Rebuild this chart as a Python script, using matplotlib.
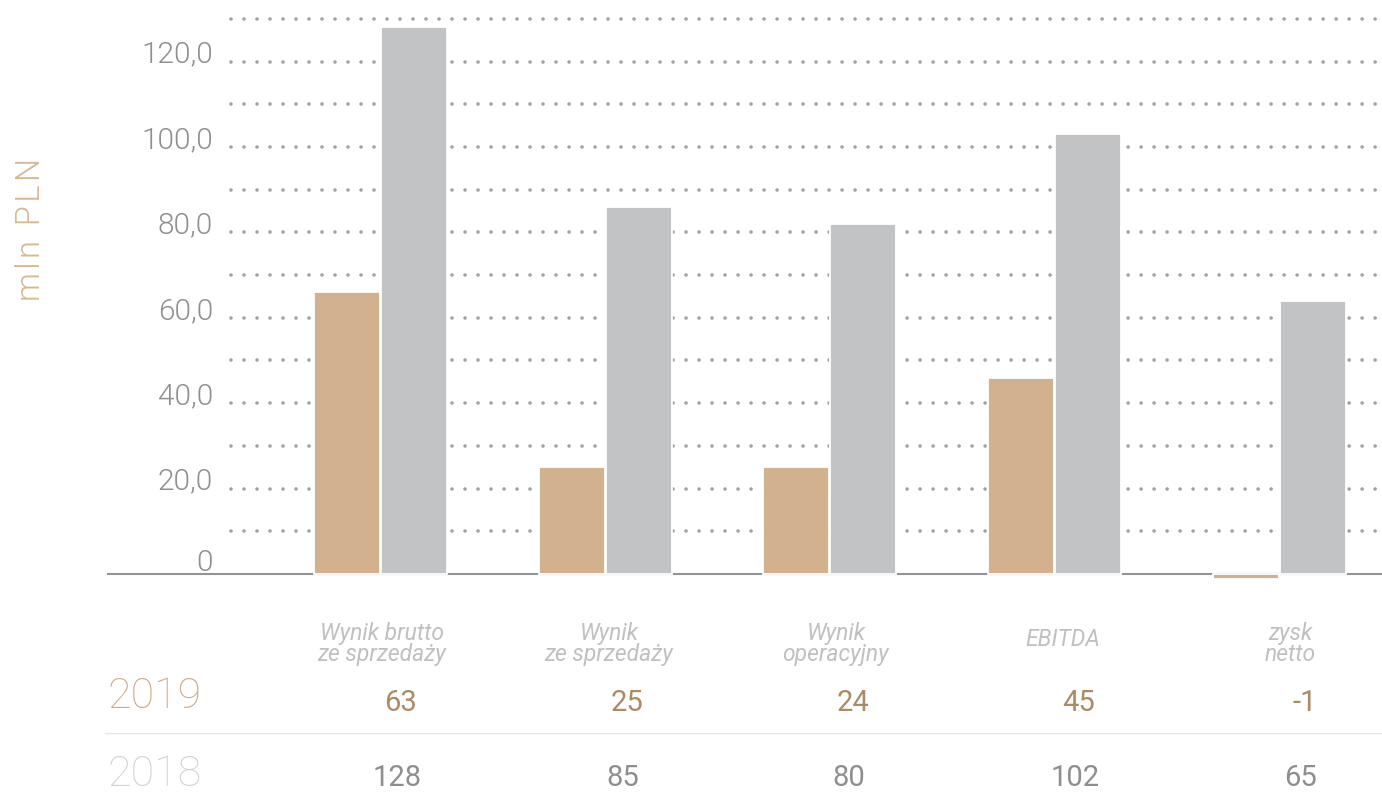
import matplotlib
matplotlib.use("Agg")
import matplotlib.pyplot as plt
import matplotlib.transforms as mtransforms
import numpy as np

plt.rcParams['lines.scale_dashes'] = False
plt.rcParams['font.family'] = ['Roboto', 'DejaVu Sans']

# ---- data ----
categories = ["Wynik brutto\nze sprzedaży", "Wynik\nze sprzedaży", "Wynik\noperacyjny", "EBITDA", "zysk\nnetto"]
bars_2019 = [66, 25, 25, 46, -1.2]
bars_2018 = [128, 86, 82, 103, 64]
table_2019 = ["63", "25", "24", "45", "-1"]
table_2018 = ["128", "85", "80", "102", "65"]
years = ["2019", "2018"]
ytick_vals = [0, 20, 40, 60, 80, 100, 120]
ytick_labels = ["0", "20,0", "40,0", "60,0", "80,0", "100,0", "120,0"]
grid_vals = list(range(10, 140, 10))

C2019 = "#d2b28e"
C2018 = "#c2c3c5"

W, H = 1382, 792
fig = plt.figure(figsize=(W / 100, H / 100), dpi=100)

def fx(px):
    return px / W

def fy(py):
    return 1 - py / H

ax = fig.add_axes([fx(107), fy(586.8), fx(1382) - fx(107), (586.8 - 10.36) / H])
ax.set_xlim(-1.215, 4.455)
ax.set_ylim(-3, 132)
for s in ax.spines.values():
    s.set_visible(False)
ax.set_xticks([])

# dotted gridlines
for g in grid_vals:
    ax.axhline(g, xmin=(231 - 107) / 1275, xmax=1, color="#a0a0a5", lw=2.6,
               linestyle=(0, (0.001, 9.36)), dash_capstyle="round", zorder=1)

# baseline
ax.axhline(0, color="#939398", lw=1.5, zorder=1.5)

x = np.arange(len(categories))
off = 0.149
bw = 0.2935
ax.bar(x - off, bars_2019, bw, color=C2019, edgecolor="white", linewidth=1.3, zorder=2)
ax.bar(x + off, bars_2018, bw, color=C2018, edgecolor="white", linewidth=1.3, zorder=2)

# y tick labels inside
ax.set_yticks(ytick_vals)
ax.set_yticklabels(ytick_labels)
ax.tick_params(axis="y", length=0, pad=-106 * 0.72, labelsize=21.5, labelcolor="#8f8f8f")
for v, lab in zip(ytick_vals, ax.get_yticklabels()):
    dy = 14 if v == 0 else 10
    shift = mtransforms.ScaledTranslation(0, dy / 100, fig.dpi_scale_trans)
    lab.set_fontweight(300)
    lab.set_transform(lab.get_transform() + shift)

# y axis title (slightly tracked)
fig.text(fx(31), fy(229), "\u200a".join("mln PLN"), rotation=90, ha="center", va="center",
         fontsize=23.5, color="#d5b896", fontweight=300)

# category labels
for i, c in enumerate(categories):
    cy = 640 if "\n" not in c else 644
    fig.text(fx(382 + 227 * i), fy(cy), c, ha="center", va="center", fontsize=16.5,
             style="italic", fontweight=400, color="#c0c0c2", linespacing=0.92)

# table rows
fig.text(fx(107), fy(697), years[0], ha="left", va="center", fontsize=31,
         fontweight=100, color="#c9ab88")
fig.text(fx(107), fy(774), years[1], ha="left", va="center", fontsize=31,
         fontweight=100, color="#d2d2d2")
for i in range(len(categories)):
    fig.text(fx(401 + 226 * i), fy(703), table_2019[i], ha="center", va="center",
             fontsize=21, color="#ac8a63")
    fig.text(fx(397 + 226 * i), fy(778), table_2018[i], ha="center", va="center",
             fontsize=21, color="#8e8e8e")

# separator
fig.add_artist(plt.Line2D([fx(105), fx(1382)], [fy(733), fy(733)], color="#e6e6e6", lw=1))

fig.savefig("out.png", dpi=100)
